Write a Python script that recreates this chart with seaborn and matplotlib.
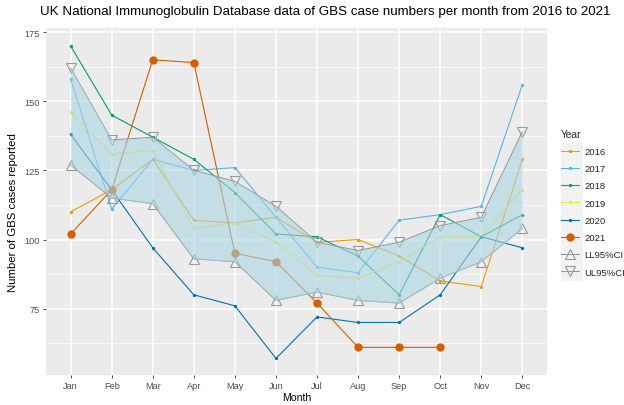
import numpy as np
import pandas as pd
import matplotlib
matplotlib.use("Agg")
import matplotlib.pyplot as plt
from matplotlib.patches import Rectangle
import seaborn as sns

months = ['Jan', 'Feb', 'Mar', 'Apr', 'May', 'Jun', 'Jul', 'Aug', 'Sep', 'Oct', 'Nov', 'Dec']
y2016 = [110, 118, 129, 107, 106, 108, 99, 100, 94, 85, 83, 129]
y2017 = [158, 111, 129, 125, 126, 108, 90, 88, 107, 109, 112, 156]
y2018 = [170, 145, 137, 129, 117, 102, 101, 94, 80, 109, 101, 109]
y2019 = [146, 131, 132, 104, 106, 99, 87, 86, 92, 101, 101, 118]
y2020 = [138, 118, 97, 80, 76, 57, 72, 70, 70, 80, 101, 97]
y2021 = [102, 118, 165, 164, 95, 92, 77, 61, 61, 61, np.nan, np.nan]
ll95 = [127, 115, 113, 93, 92, 78, 81, 78, 77, 86, 92, 104]
ul95 = [162, 136, 137, 125, 121, 112, 99, 96, 99, 105, 108, 139]

series_names = ['2016', '2017', '2018', '2019', '2020', '2021', 'LL95%CI', 'UL95%CI']
series_vals = [y2016, y2017, y2018, y2019, y2020, y2021, ll95, ul95]
colors = ['#E69F00', '#56B4E9', '#009E73', '#F0E442', '#0072B2', '#D55E00', '#999999', '#999999']

rows = []
for name, vals in zip(series_names, series_vals):
    for i, v in enumerate(vals):
        rows.append({'Year': name, 'm': i + 1, 'Month': months[i], 'value': v})
df = pd.DataFrame(rows)

sns.set_theme(style="darkgrid")
plt.rcParams['font.family'] = ['Liberation Sans', 'DejaVu Sans']

fig = plt.figure(figsize=(6.24, 4.06), dpi=100)
ax = fig.add_axes([46/624, 1-376/406, (547-46)/624, (376-29)/406])
ax.set_facecolor('#EBEBEB')

for name, col in zip(series_names, colors):
    d = df[df['Year'] == name].dropna()
    if name == '2021':
        kw = dict(marker='o', markersize=6, markeredgewidth=0, markerfacecolor=col)
    elif name == 'LL95%CI':
        kw = dict(marker='^', markersize=7, markerfacecolor='none', markeredgecolor=col, markeredgewidth=0.8)
    elif name == 'UL95%CI':
        kw = dict(marker='v', markersize=7, markerfacecolor='none', markeredgecolor=col, markeredgewidth=0.8)
    else:
        kw = dict(marker='o', markersize=2.4, markeredgewidth=0, markerfacecolor=col)
    sns.lineplot(data=d, x='m', y='value', color=col, linewidth=0.8, ax=ax,
                 label=name, zorder=3, **kw)

xs = np.arange(1, 13)
ax.fill_between(xs, ll95, ul95, color='#A8D5E4', alpha=0.58, linewidth=0, zorder=4)

ax.set_xlim(0.4, 12.6)
ax.set_ylim(51, 176.5)
ax.set_xticks(xs)
ax.set_xticklabels(months)
ax.set_yticks([75, 100, 125, 150, 175])
ax.set_yticks([62.5, 87.5, 112.5, 137.5, 162.5], minor=True)
ax.grid(which='major', color='white', linewidth=1.1)
ax.grid(which='minor', axis='y', color='white', linewidth=0.5)
ax.grid(which='minor', axis='x', visible=False)
ax.set_axisbelow(True)
for s in ax.spines.values():
    s.set_visible(False)
ax.tick_params(axis='both', which='major', length=2.5, width=0.6, color='#333333',
               labelcolor='#4D4D4D', labelsize=6.6, pad=2, direction='out',
               bottom=True, left=True)
ax.tick_params(which='minor', length=0)

ax.set_xlabel('Month', fontsize=7.6, color='black', labelpad=1)
ax.set_ylabel('Number of GBS cases reported', fontsize=8.2, color='black')
ax.yaxis.set_label_coords(-0.056, 0.47)

fig.text(40/624, 1-12/406, 'UK National Immunoglobulin Database data of GBS case numbers per month from 2016 to 2021',
         ha='left', va='center', fontsize=9.6, color='black')

handles, labels = ax.get_legend_handles_labels()
if ax.legend_:
    ax.legend_.remove()
fig.patches.append(Rectangle((561/624, 1-282/406), 22/624, 138/406, transform=fig.transFigure,
                             facecolor='#F2F2F2', edgecolor='none', zorder=0))
leg = fig.legend(handles, labels, title='Year', loc='upper left',
                 bbox_to_anchor=(557/624, 1-126/406), frameon=False,
                 fontsize=6.8, title_fontsize=7.4, handlelength=1.9,
                 labelspacing=0.87, handletextpad=0.6, borderaxespad=0)
leg._legend_box.align = 'left'

fig.savefig('out.png', dpi=100)
